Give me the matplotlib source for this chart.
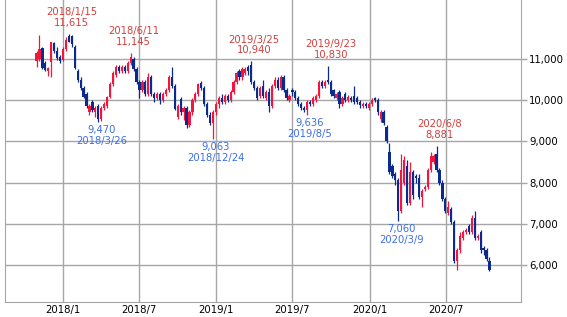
# weekly candlestick chart, 2017/10 - 2020/10
import matplotlib
matplotlib.use("Agg")
import matplotlib.pyplot as plt
import matplotlib.dates as mdates
import numpy as np
import pandas as pd

# weekly bars (Mondays), first week 2017-10-30
weeks = pd.date_range("2017-10-30", periods=155, freq="W-MON")

opens = [10950, 11000, 11270, 10900, 10700, 10930, 11380, 11200, 11050, 10980,
         11250, 11550, 11550, 11300, 10700, 10500, 10300, 10150, 9700, 9950,
         9700, 9850, 9550, 9800, 9850, 10080, 10400, 10600, 10800, 10700,
         10800, 10700, 10900, 11000, 10750, 10450, 10250, 10450, 10150, 10550,
         10150, 10050, 10150, 10000, 10150, 10250, 10550, 10350, 9600, 10030,
         9700, 9800, 9400, 9700, 10000, 10150, 10420, 10300, 9900, 9650,
         9450, 9700, 9900, 10050, 9950, 10100, 10000, 10200, 10450, 10700,
         10550, 10650, 10800, 10850, 10450, 10300, 10100, 10350, 10050, 10200,
         9850, 10350, 10500, 10300, 10550, 10250, 10000, 10250, 10200, 10050,
         9900, 9800, 9750, 9950, 9900, 10000, 10100, 10450, 10350, 10500,
         10450, 10250, 10050, 10200, 9900, 10150, 10000, 10050, 10100, 10050,
         9950, 9850, 9900, 9800, 9900, 10050, 10000, 9550, 9700, 9350,
         8750, 8400, 8200, 8050, 7300, 8000, 8400, 7500, 8250, 8150,
         8100, 7650, 7850, 7900, 8300, 8500, 8700, 8300, 8000, 7600,
         7250, 7350, 7050, 6100, 6350, 6650, 6800, 6950, 6800, 7150,
         6650, 6800, 6400, 6350, 6100]
highs = [11200, 11580, 11300, 10950, 10800, 11420, 11420, 11280, 11100, 11300,
         11520, 11615, 11580, 11330, 10750, 10550, 10350, 10200, 9900, 10000,
         9850, 9900, 9850, 9950, 10100, 10450, 10700, 10850, 10850, 10850,
         10850, 10950, 11145, 11050, 10800, 10500, 10500, 10500, 10650, 10600,
         10200, 10200, 10200, 10200, 10300, 10600, 10800, 10400, 9900, 10080,
         9850, 9850, 9750, 10050, 10200, 10420, 10460, 10350, 9950, 9700,
         9750, 9950, 10100, 10150, 10150, 10150, 10250, 10500, 10700, 10750,
         10800, 10800, 10850, 10940, 10500, 10350, 10350, 10500, 10250, 10300,
         10400, 10550, 10550, 10600, 10600, 10300, 10150, 10300, 10250, 10100,
         9950, 9850, 10000, 10000, 10100, 10150, 10500, 10500, 10500, 10830,
         10500, 10280, 10200, 10250, 10100, 10200, 10120, 10100, 10350, 10100,
         10000, 9950, 9950, 9950, 10050, 10080, 10050, 9750, 9750, 9400,
         8950, 8450, 8250, 8100, 8700, 8650, 8550, 8500, 8300, 8200,
         8200, 7850, 7950, 8350, 8750, 8700, 8881, 8350, 8050, 7650,
         7550, 7400, 7100, 6400, 6800, 6850, 6900, 7000, 7200, 7300,
         6750, 6850, 6450, 6400, 6200]
lows = [10800, 10950, 10750, 10700, 10580, 10560, 11150, 10980, 10900, 10950,
        11200, 11400, 11300, 10750, 10450, 10250, 10050, 9800, 9650, 9700,
        9600, 9470, 9500, 9750, 9800, 10050, 10350, 10550, 10650, 10650,
        10650, 10650, 10850, 10700, 10400, 10050, 10200, 10100, 10100, 10100,
        9950, 10000, 9900, 9950, 10100, 10200, 10300, 9750, 9550, 9650,
        9520, 9330, 9350, 9650, 9950, 10100, 10250, 9850, 9600, 9400,
        9063, 9650, 9800, 9900, 9900, 9950, 9950, 10150, 10400, 10500,
        10500, 10600, 10600, 10400, 10250, 10000, 10050, 10050, 10000, 9700,
        9800, 10300, 10250, 10250, 10200, 10000, 9950, 10100, 10000, 9850,
        9750, 9700, 9636, 9850, 9850, 9950, 10050, 10300, 10300, 10400,
        10100, 10050, 10000, 9800, 9850, 9950, 9950, 9950, 9900, 9900,
        9820, 9800, 9800, 9750, 9850, 9950, 9650, 9480, 9400, 8950,
        8200, 8100, 7950, 7060, 7250, 7950, 7450, 7450, 7600, 8000,
        7600, 7400, 7800, 7850, 8250, 8450, 8250, 7950, 7550, 7250,
        7200, 7000, 6050, 5870, 6300, 6600, 6750, 6750, 6750, 6600,
        6600, 6300, 6250, 6100, 5850]
closes = [11150, 11250, 10780, 10730, 10780, 11400, 11200, 11020, 10950, 11250,
          11460, 11420, 11350, 10780, 10500, 10300, 10080, 9850, 9850, 9750,
          9800, 9550, 9800, 9900, 10080, 10400, 10650, 10800, 10700, 10800,
          10700, 10900, 11050, 10750, 10450, 10250, 10450, 10150, 10550, 10150,
          10050, 10150, 10000, 10150, 10250, 10550, 10350, 9780, 9850, 9700,
          9800, 9400, 9700, 10000, 10150, 10400, 10300, 9900, 9650, 9450,
          9700, 9900, 10050, 9950, 10100, 10000, 10200, 10450, 10650, 10550,
          10750, 10750, 10700, 10450, 10300, 10050, 10300, 10100, 10200, 9850,
          10350, 10500, 10300, 10550, 10250, 10050, 10100, 10200, 10050, 9900,
          9800, 9750, 9950, 9900, 10050, 10100, 10450, 10350, 10450, 10450,
          10150, 10100, 10150, 9900, 10050, 10000, 10080, 10000, 9950, 9950,
          9870, 9900, 9850, 9900, 10000, 10000, 9700, 9700, 9450, 9000,
          8250, 8150, 8050, 7300, 8300, 8550, 7500, 8250, 7700, 8100,
          7650, 7800, 7880, 8300, 8650, 8650, 8300, 8000, 7600, 7300,
          7400, 7050, 6100, 6350, 6700, 6800, 6850, 6800, 7150, 6650,
          6700, 6350, 6350, 6150, 5880]

# annotated extremes
high_dates = ["2018-01-15", "2018-06-11", "2019-03-25", "2019-09-23", "2020-06-08"]
high_vals = [11615, 11145, 10940, 10830, 8881]
low_dates = ["2018-03-26", "2018-12-24", "2019-08-05", "2020-03-09"]
low_vals = [9470, 9063, 9636, 7060]

xtick_dates = ["2018-01-01", "2018-07-01", "2019-01-01", "2019-07-01", "2020-01-01", "2020-07-01"]
xtick_labels = ["2018/1", "2018/7", "2019/1", "2019/7", "2020/1", "2020/7"]
ytick_vals = [6000, 7000, 8000, 9000, 10000, 11000]

UP = "#f5143c"
DOWN = "#0b2a8e"
HI_TXT = "#d43f3c"
LO_TXT = "#3d6fe6"
GRID = "#a6a6a6"

fig = plt.figure(figsize=(5.67, 3.17), dpi=100)
ax = fig.add_axes([5 / 567, 1 - 302 / 317, 516 / 567, 302 / 317])

x = mdates.date2num(weeks)
o = np.array(opens)
c = np.array(closes)
colors = [UP if cc >= oo else DOWN for oo, cc in zip(o, c)]

ax.vlines(x, lows, highs, colors=colors, linewidth=0.9, zorder=3)
ax.bar(x, np.maximum(np.abs(c - o), 25), bottom=np.minimum(o, c), width=5.4,
       color=colors, linewidth=0, zorder=4)

for d, v in zip(high_dates, high_vals):
    lbl = f"{pd.Timestamp(d).year}/{pd.Timestamp(d).month}/{pd.Timestamp(d).day}\n{v:,}"
    ax.annotate(lbl, (mdates.date2num(pd.Timestamp(d)), v), xytext=(3, 6),
                textcoords="offset pixels", ha="center", va="bottom",
                fontsize=7.2, color=HI_TXT, linespacing=1.1, zorder=5)
for d, v in zip(low_dates, low_vals):
    lbl = f"{v:,}\n{pd.Timestamp(d).year}/{pd.Timestamp(d).month}/{pd.Timestamp(d).day}"
    ax.annotate(lbl, (mdates.date2num(pd.Timestamp(d)), v), xytext=(3, -3),
                textcoords="offset pixels", ha="center", va="top",
                fontsize=7.2, color=LO_TXT, linespacing=1.1, zorder=5)

ax.set_xlim(mdates.date2num(pd.Timestamp("2017-08-16")), mdates.date2num(pd.Timestamp("2020-12-26")))
ax.set_ylim(5100, 12430)

ax.set_xticks(mdates.date2num(pd.to_datetime(xtick_dates)))
ax.set_xticklabels(xtick_labels)
ax.set_yticks(ytick_vals)
ax.set_yticklabels([f"{v:,}" for v in ytick_vals])
ax.yaxis.tick_right()
ax.tick_params(axis="x", length=0, pad=2, labelsize=7.3)
ax.tick_params(axis="y", length=4, width=1, color=GRID, pad=2, labelsize=7.3)
ax.grid(True, color=GRID, linewidth=1)
ax.set_axisbelow(True)
for side in ["left", "right", "bottom"]:
    ax.spines[side].set_color(GRID)
ax.spines["top"].set_visible(False)

fig.savefig("out.png", dpi=100)
